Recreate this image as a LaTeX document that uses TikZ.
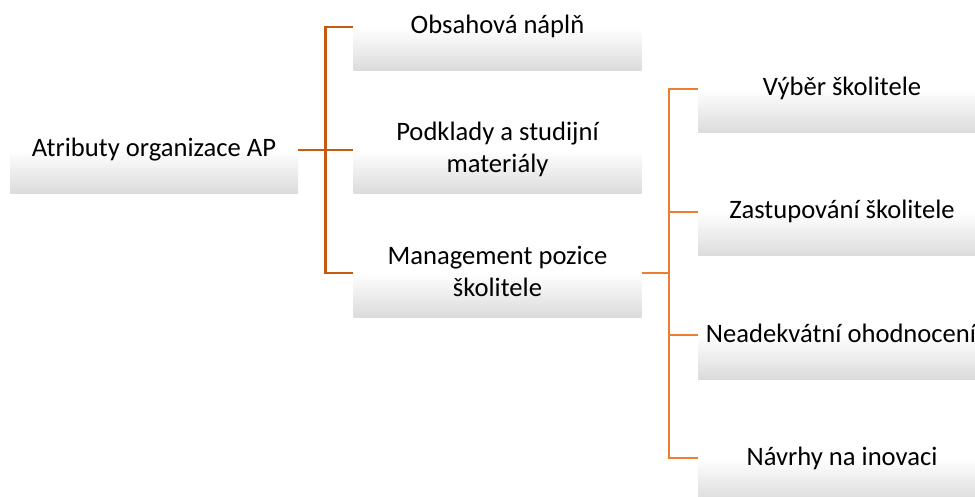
\documentclass[tikz,border=0pt]{standalone}
\usepackage{fontspec}
\setmainfont{Carlito}
\usetikzlibrary{calc}
\definecolor{branchA}{RGB}{197,90,17}
\definecolor{branchB}{RGB}{237,125,49}
\definecolor{bandgray}{RGB}{219,219,219}
\tikzset{
  band/.style={rectangle, inner sep=0pt, minimum width=288pt, minimum height=44pt,
    shading=axis, top color=white, bottom color=bandgray, draw=none},
  lbl/.style={inner sep=0pt, anchor=base, align=center, text=black,
    font=\fontsize{26.6}{32}\selectfont},
  linkA/.style={draw=branchA, line width=2.5pt},
  linkB/.style={draw=branchB, line width=2.5pt},
}
\begin{document}
\begin{tikzpicture}[x=1pt, y=-1pt]
  \useasboundingbox (0,0) rectangle (975,497);
  \clip (0,0) rectangle (975,497);
  \fill[white] (0,0) rectangle (975,497);

  % shaded bands under each label
  \node[band] (a)  at (154,172)   {};
  \node[band] (b1) at (497.5,49)  {};
  \node[band] (b2) at (497.5,172) {};
  \node[band] (b3) at (497.5,295) {};
  \node[band] (c1) at (842,111)   {};
  \node[band] (c2) at (842,234)   {};
  \node[band] (c3) at (842,357)   {};
  \node[band] (c4) at (842,480)   {};

  % labels (base anchor sits on the last line)
  \node[lbl] (ta)  at (154,157)   {Atributy organizace AP};
  \node[lbl] (tb1) at (497.5,34)  {Obsahová náplň};
  \node[lbl] (tb2) at (497.5,173) {Podklady a studijní\\materiály};
  \node[lbl] (tb3) at (497.5,296) {Management pozice\\školitele};
  \node[lbl] (tc1) at (842,96)    {Výběr školitele};
  \node[lbl] (tc2) at (842,219)   {Zastupování školitele};
  \node[lbl] (tc3) at (841,342)   {Neadekvátní ohodnocení};
  \node[lbl] (tc4) at (842,465)   {Návrhy na inovaci};

  % first level connectors
  \draw[linkA] (a.north east) -- (b2.north west);
  \draw[linkA] (b1.north west) -- ++(-28,0) |- (b3.north west);

  % second level connectors
  \coordinate (spine) at ($(c1.north west)+(-29,0)$);
  \draw[linkB] (b3.north east) -- (b3.north east -| spine);
  \draw[linkB] (c1.north west) -- (spine) |- (c4.north west);
  \draw[linkB] (c2.north west) -- (c2.north west -| spine);
  \draw[linkB] (c3.north west) -- (c3.north west -| spine);
\end{tikzpicture}
\end{document}
